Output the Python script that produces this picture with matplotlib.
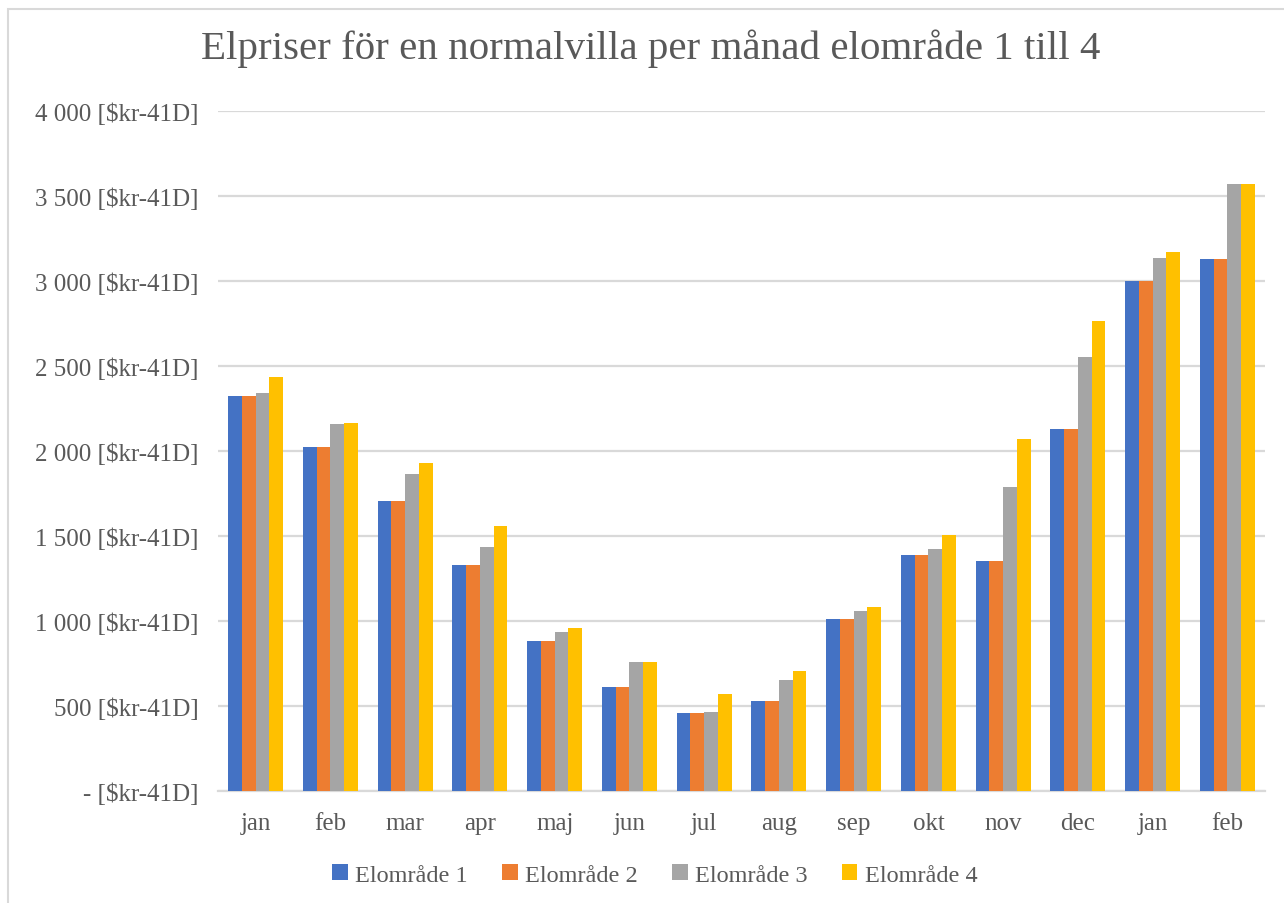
import numpy as np
import matplotlib
matplotlib.use('Agg')
import matplotlib.pyplot as plt
from matplotlib.patches import Rectangle

# månader (jan 2022 - feb 2023)
manader = ['jan', 'feb', 'mar', 'apr', 'maj', 'jun', 'jul', 'aug',
           'sep', 'okt', 'nov', 'dec', 'jan', 'feb']

# kr per månad
elomrade_1 = [2324, 2024, 1706, 1328, 881, 610, 457, 528, 1010, 1386, 1351, 2127, 3000, 3128]
elomrade_2 = [2324, 2024, 1706, 1328, 881, 610, 457, 528, 1010, 1386, 1351, 2127, 3000, 3128]
elomrade_3 = [2341, 2159, 1865, 1434, 934, 757, 463, 651, 1057, 1422, 1786, 2551, 3133, 3569]
elomrade_4 = [2435, 2165, 1929, 1557, 957, 757, 569, 704, 1080, 1506, 2069, 2762, 3169, 3569]

serier = ['Elområde 1', 'Elområde 2', 'Elområde 3', 'Elområde 4']
farger = ['#4472C4', '#ED7D31', '#A5A5A5', '#FFC000']

y_ticks = [0, 500, 1000, 1500, 2000, 2500, 3000, 3500, 4000]
y_labels = ['- [$kr-41D]', '500 [$kr-41D]', '1 000 [$kr-41D]', '1 500 [$kr-41D]',
            '2 000 [$kr-41D]', '2 500 [$kr-41D]', '3 000 [$kr-41D]',
            '3 500 [$kr-41D]', '4 000 [$kr-41D]']

titel = 'Elpriser för en normalvilla per månad elområde 1 till 4'

plt.rcParams['font.family'] = ['Liberation Serif', 'DejaVu Serif']
textfarg = '#595959'

fig = plt.figure(figsize=(12.84, 9.04), dpi=100)
ax = fig.add_axes([0.170, 0.124, 0.815, 0.752])

# ram runt diagrammet
fig.patches.append(Rectangle((8 / 1284, -0.01), 1.02, 1 - 10 / 904 + 0.01,
                             transform=fig.transFigure, fill=False,
                             edgecolor='#d9d9d9', linewidth=1.5))

x = np.arange(len(manader))
bredd = 0.184
data = [elomrade_1, elomrade_2, elomrade_3, elomrade_4]
for i, (varden, namn, farg) in enumerate(zip(data, serier, farger)):
    ax.bar(x + (i - 1.5) * bredd, varden, width=bredd, color=farg,
           label=namn, zorder=3)

ax.set_xlim(-0.5, len(manader) - 0.5)
ax.set_ylim(0, 4000)
ax.set_yticks(y_ticks)
ax.set_yticklabels(y_labels)
ax.set_xticks(x)
ax.set_xticklabels(manader)
ax.tick_params(axis='both', length=0, labelsize=18, colors=textfarg)
ax.tick_params(axis='y', pad=14)
ax.tick_params(axis='x', pad=15)
ax.grid(axis='y', color='#d9d9d9', linewidth=1.6, zorder=0)
for s in ['top', 'right', 'left']:
    ax.spines[s].set_visible(False)
ax.spines['bottom'].set_color('#d9d9d9')
ax.spines['bottom'].set_linewidth(1.6)

fig.text(0.507, 0.946, titel, ha='center', va='center', fontsize=29.5,
         color=textfarg)

leg = fig.legend(loc='center', bbox_to_anchor=(0.51, 0.031), ncol=4,
                 frameon=False, fontsize=17.5, handlelength=0.65,
                 handleheight=0.65, handletextpad=0.3, columnspacing=1.4)
for t in leg.get_texts():
    t.set_color(textfarg)

fig.savefig('out.png', dpi=100)
